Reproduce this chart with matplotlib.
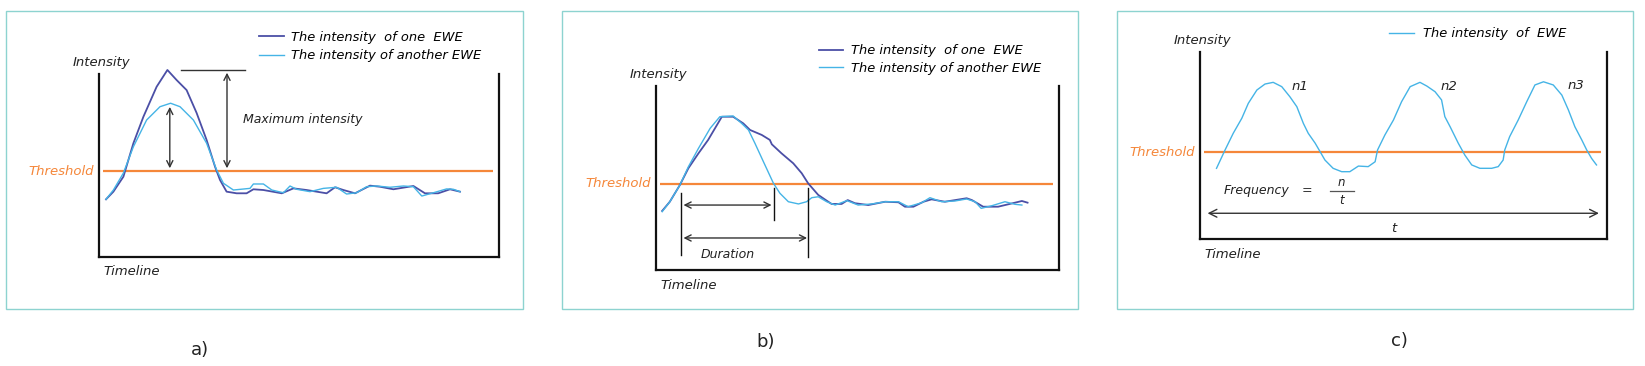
import numpy as np
import matplotlib
matplotlib.use('Agg')
import matplotlib.pyplot as plt
from matplotlib.patches import Rectangle

W, H = 1645, 366

# ---- panel a: maximum intensity ----
time_a_one = [1.75, 3.6, 6.1, 8.6, 11.1, 14.4, 17.1, 19.4, 21.9, 24.4, 26.9, 29.0, 30.25,
              31.9, 34.4, 36.9, 38.6, 41.1, 45.7, 48.6, 51.9, 56.9, 59.0, 61.1, 64.0,
              67.75, 70.25, 73.6, 78.6, 81.5, 84.8, 87.75, 90.25]
int_a_one = [3.14, 3.56, 4.38, 6.21, 7.66, 9.30, 10.22, 9.67, 9.12, 7.87, 6.39, 4.93, 4.20,
             3.56, 3.47, 3.47, 3.69, 3.65, 3.47, 3.74, 3.65, 3.47, 3.80, 3.65, 3.47,
             3.89, 3.83, 3.69, 3.87, 3.47, 3.47, 3.69, 3.56]
time_a_other = [1.75, 3.6, 6.1, 8.6, 11.9, 15.25, 17.9, 20.25, 23.6, 26.9, 29.4, 31.1, 33.6,
                37.75, 38.6, 41.1, 43.2, 46.1, 47.75, 49.4, 52.75, 56.1, 59.4, 61.9, 64.4,
                66.9, 69.4, 72.75, 76.1, 78.6, 80.7, 83.6, 86.9, 88.6, 90.25]
int_a_other = [3.14, 3.65, 4.58, 6.02, 7.48, 8.21, 8.40, 8.21, 7.48, 6.21, 4.75, 4.02, 3.65,
               3.74, 3.98, 3.98, 3.65, 3.50, 3.87, 3.69, 3.56, 3.74, 3.80, 3.43, 3.50,
               3.83, 3.87, 3.80, 3.87, 3.83, 3.32, 3.50, 3.71, 3.69, 3.56]
threshold_a = 4.69

# ---- panel b: duration ----
time_b_one = [1.6, 3.5, 6.0, 8.1, 10.6, 13.0, 16.4, 19.2, 21.7, 23.4, 26.3, 28.3, 28.8,
              31.2, 34.1, 36.2, 37.8, 40.3, 43.6, 46.1, 47.6, 49.4, 52.7, 56.9, 60.2,
              61.8, 63.9, 66.4, 68.4, 71.7, 77.1, 78.4, 81.2, 84.9, 87.4, 90.8, 92.2]
int_b_one = [3.21, 3.71, 4.62, 5.53, 6.34, 7.07, 8.33, 8.33, 7.97, 7.61, 7.34, 7.07, 6.83,
             6.34, 5.80, 5.26, 4.71, 4.08, 3.59, 3.59, 3.80, 3.63, 3.53, 3.71, 3.68,
             3.44, 3.44, 3.71, 3.84, 3.71, 3.90, 3.80, 3.44, 3.44, 3.57, 3.75, 3.66]
time_b_other = [1.6, 3.5, 6.0, 8.1, 10.6, 13.5, 15.9, 19.2, 21.3, 23.0, 24.6, 26.7, 29.2,
                30.8, 32.9, 35.4, 37.4, 38.7, 40.3, 42.4, 44.5, 47.4, 50.2, 53.6, 56.9,
                60.2, 62.6, 66.0, 68.0, 70.9, 74.2, 77.1, 79.2, 80.7, 83.3, 86.6, 89.1, 90.8]
int_b_other = [3.17, 3.71, 4.62, 5.61, 6.61, 7.70, 8.33, 8.37, 7.97, 7.61, 6.89, 5.89, 4.71,
               4.17, 3.71, 3.59, 3.71, 3.93, 3.98, 3.71, 3.53, 3.77, 3.53, 3.59, 3.71,
               3.71, 3.44, 3.66, 3.93, 3.71, 3.75, 3.86, 3.71, 3.35, 3.49, 3.71, 3.57, 3.53]
threshold_b = 4.70

# ---- panel c: frequency ----
time_c = [4.1, 6.2, 8.2, 10.3, 11.9, 14.0, 16.0, 18.0, 20.1, 22.1, 23.8, 25.4, 26.6, 28.3,
          29.5, 30.7, 32.7, 34.8, 36.8, 38.9, 41.3, 43.0, 43.6, 45.4, 47.5, 49.5, 51.6,
          54.0, 55.7, 57.7, 59.3, 60.1, 61.4, 63.4, 65.0, 66.7, 68.7, 71.6, 73.2, 74.4,
          74.8, 76.0, 78.1, 80.2, 82.2, 84.3, 86.7, 88.8, 90.4, 92.0, 93.7, 94.9, 96.1, 97.3]
int_c = [3.79, 4.77, 5.66, 6.46, 7.26, 7.97, 8.29, 8.38, 8.15, 7.61, 7.08, 6.19, 5.66, 5.13,
         4.68, 4.23, 3.79, 3.61, 3.61, 3.91, 3.88, 4.14, 4.77, 5.57, 6.37, 7.35, 8.15,
         8.38, 8.18, 7.88, 7.44, 6.55, 6.01, 5.13, 4.50, 3.97, 3.79, 3.79, 3.88, 4.23,
         4.77, 5.48, 6.37, 7.35, 8.24, 8.41, 8.24, 7.70, 6.91, 6.01, 5.30, 4.77, 4.32, 3.97]
threshold_c = 4.66
peak_labels = ['n1', 'n2', 'n3']

DARK = '#4b4fa6'
LIGHT = '#45b4e6'
ORANGE = '#f5873a'
TEAL = '#8dd3d0'
font = dict(style='italic', color='#222222')


def fx(px):
    return px / W


def fy(py):
    return 1 - py / H


def crossings(x, y, level):
    x = np.asarray(x, float)
    y = np.asarray(y, float)
    s = np.sign(y - level)
    idx = np.where(np.diff(s) != 0)[0]
    return [x[i] + (level - y[i]) * (x[i + 1] - x[i]) / (y[i + 1] - y[i]) for i in idx]


def make_axes(fig, left, right, top, bottom):
    ax = fig.add_axes([fx(left), fy(bottom), (right - left) / W, (bottom - top) / H])
    ax.set_xlim(0, 100)
    ax.set_ylim(0, 10)
    ax.patch.set_alpha(0)
    ax.spines['top'].set_visible(False)
    for s in ['left', 'right', 'bottom']:
        ax.spines[s].set_linewidth(1.6)
        ax.spines[s].set_color('#111111')
    ax.set_xticks([])
    ax.set_yticks([])
    ax.annotate('Intensity', xy=(0, 1), xycoords='axes fraction', xytext=(-19, 8.5),
                textcoords='offset points', ha='left', va='center', fontsize=9.5, **font)
    ax.annotate('Timeline', xy=(0, 0), xycoords='axes fraction', xytext=(3.5, -11),
                textcoords='offset points', ha='left', va='center', fontsize=9.5, **font)
    return ax


def threshold(ax, level):
    ax.plot([1, 98.5], [level, level], color=ORANGE, lw=1.6, solid_capstyle='butt')
    ax.annotate('Threshold', xy=(0, level), xytext=(-3.5, 0), textcoords='offset points',
                ha='right', va='center', fontsize=9.5, style='italic', color=ORANGE)


def darrow(ax, p0, p1, ms=11):
    ax.annotate('', xy=p1, xytext=p0, annotation_clip=False,
                arrowprops=dict(arrowstyle='<->', lw=1.0, color='#333333',
                                shrinkA=0, shrinkB=0, mutation_scale=ms))


fig = plt.figure(figsize=(W / 100, H / 100), dpi=100)

# panel frames
for l, r in [(6, 523), (562, 1078), (1117, 1633)]:
    fig.add_artist(Rectangle((fx(l), fy(309)), (r - l) / W, (309 - 10.5) / H,
                             transform=fig.transFigure, fill=False, ec=TEAL, lw=1.0))

# ---------- a ----------
ax = make_axes(fig, 99, 499, 74, 256.7)
threshold(ax, threshold_a)
l1, = ax.plot(time_a_one, int_a_one, color=DARK, lw=1.3, clip_on=False,
              label='The intensity  of one  EWE')
l2, = ax.plot(time_a_other, int_a_other, color=LIGHT, lw=1.0, clip_on=False,
              label='The intensity of another EWE')
i_one = int(np.argmax(int_a_one))
i_oth = int(np.argmax(int_a_other))
darrow(ax, (time_a_other[i_oth] - 0.2, threshold_a + 0.15), (time_a_other[i_oth] - 0.2, int_a_other[i_oth] - 0.2))
darrow(ax, (32, threshold_a + 0.15), (32, int_a_one[i_one] - 0.15))
ax.plot([20.5, 36.5], [int_a_one[i_one]] * 2, color='#333333', lw=1.0, clip_on=False)
ax.text(36, 7.5, 'Maximum intensity', fontsize=9, ha='left', va='center', **font)
fig.legend(handles=[l1, l2], loc='center left', bbox_to_anchor=(fx(259), fy(46.5)),
           frameon=False, handlelength=1.9, handletextpad=0.55,
           labelspacing=0.45, borderpad=0, borderaxespad=0, prop=dict(style='italic', size=9.4))
fig.text(fx(200), fy(350), 'a)', fontsize=13, ha='center', va='center', color='#222222')

# ---------- b ----------
ax = make_axes(fig, 655.7, 1059, 86, 270)
threshold(ax, threshold_b)
l1, = ax.plot(time_b_one, int_b_one, color=DARK, lw=1.3, label='The intensity  of one  EWE')
l2, = ax.plot(time_b_other, int_b_other, color=LIGHT, lw=1.0, label='The intensity of another EWE')
up = crossings(time_b_one, int_b_one, threshold_b)
down_other = crossings(time_b_other, int_b_other, threshold_b)[1]
x_up, x_down = up[0], up[1]
ax.plot([x_up, x_up], [threshold_b - 0.5, 0.8], color='#111111', lw=1.0)
ax.plot([down_other, down_other], [threshold_b - 0.25, 2.72], color='#111111', lw=1.0)
ax.plot([x_down, x_down], [threshold_b - 0.25, 0.72], color='#111111', lw=1.0)
darrow(ax, (x_up + 0.7, 3.53), (down_other - 0.5, 3.53))
darrow(ax, (x_up + 0.7, 1.74), (x_down - 0.3, 1.74))
ax.text(17.9, 0.82, 'Duration', fontsize=9, ha='center', va='center', **font)
fig.legend(handles=[l1, l2], loc='center left', bbox_to_anchor=(fx(818.6), fy(59.5)),
           frameon=False, handlelength=1.9, handletextpad=0.55,
           labelspacing=0.35, borderpad=0, borderaxespad=0, prop=dict(style='italic', size=9.4))
fig.text(fx(766), fy(342), 'b)', fontsize=13, ha='center', va='center', color='#222222')

# ---------- c ----------
ax = make_axes(fig, 1199.8, 1607.5, 52, 239.3)
threshold(ax, threshold_c)
l1, = ax.plot(time_c, int_c, color=LIGHT, lw=1.0, label='The intensity  of  EWE')
cr = crossings(time_c, int_c, threshold_c)
tc = np.asarray(time_c)
ic = np.asarray(int_c)
for k, lab in enumerate(peak_labels):
    seg = (tc > cr[2 * k]) & (tc < cr[2 * k + 1])
    j = np.argmax(np.where(seg, ic, -1))
    ax.annotate(lab, xy=(tc[j], ic[j]), xytext=(13 + 2 * k, -3), textcoords='offset points',
                ha='left', va='center', fontsize=9.5, **font)
ax.text(13.8, 2.63, 'Frequency', fontsize=9, ha='center', va='center', **font)
ax.text(26.4, 2.63, '=', fontsize=9, ha='center', va='center', color='#333333')
ax.text(34.6, 3.05, 'n', fontsize=8.5, ha='center', va='center', **font)
ax.plot([31.9, 37.8], [2.59, 2.59], color='#555555', lw=0.9)
ax.text(34.8, 2.08, 't', fontsize=8.5, ha='center', va='center', **font)
darrow(ax, (1.9, 1.39), (97.9, 1.39), ms=14)
ax.text(47.6, 0.59, 't', fontsize=9.5, ha='center', va='center', **font)
fig.legend(handles=[l1], loc='center left', bbox_to_anchor=(fx(1389), fy(34)),
           frameon=False, handlelength=1.9, handletextpad=0.7,
           borderpad=0, borderaxespad=0, prop=dict(style='italic', size=9.4))
fig.text(fx(1399), fy(341), 'c)', fontsize=13, ha='center', va='center', color='#222222')

fig.savefig('out.png', dpi=100)
